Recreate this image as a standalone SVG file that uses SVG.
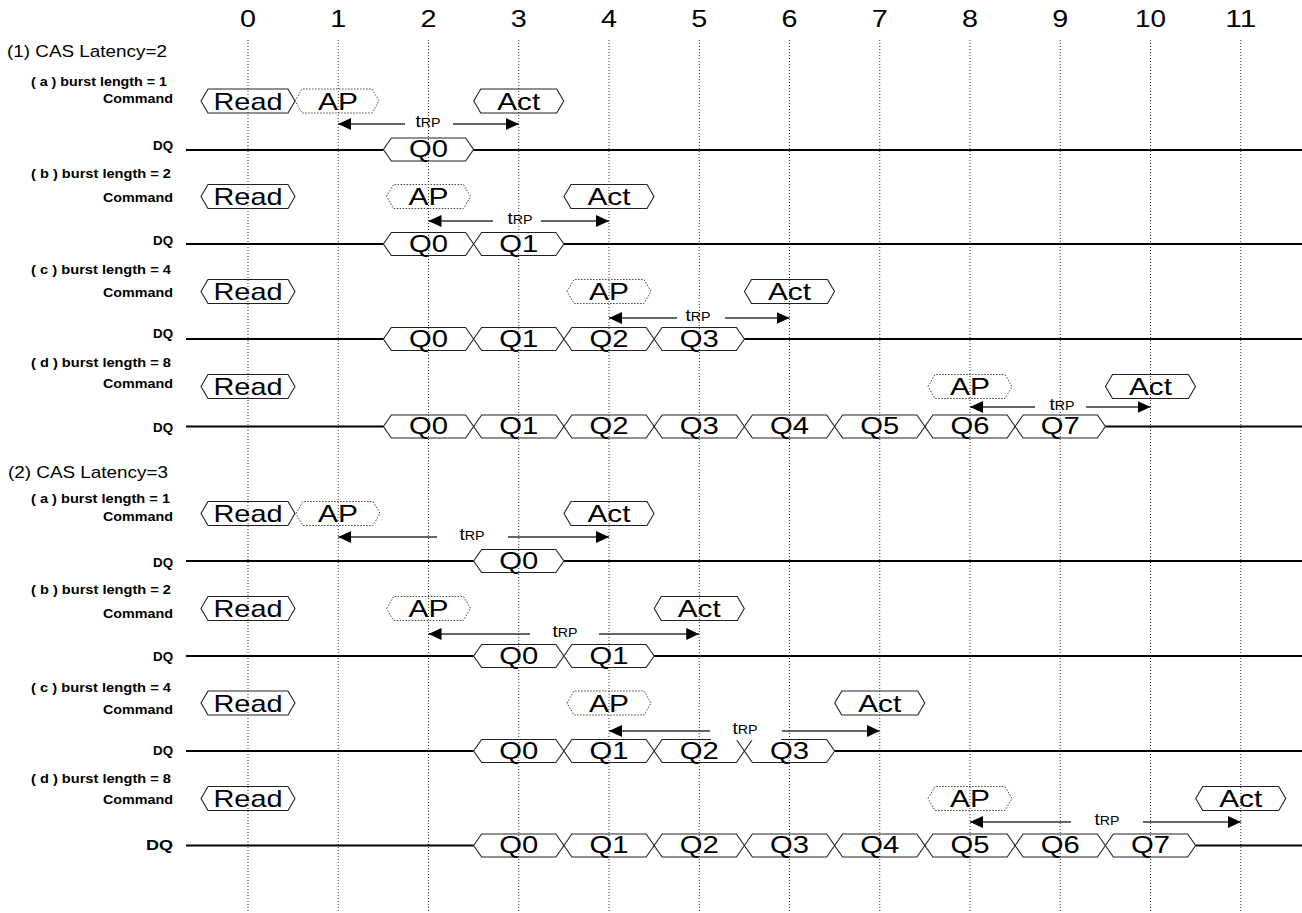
<svg xmlns="http://www.w3.org/2000/svg" width="1302" height="913" viewBox="0 0 1302 913">
<style>
text{font-family:"Liberation Sans",Arial,sans-serif;fill:#000}
.num{font-size:24px;text-anchor:middle}
.head{font-size:17px}
.lbl{font-size:13px;font-weight:bold}
.dql{font-size:15px;font-weight:bold}
.big{font-size:24px;text-anchor:middle}
.trp{font-size:16px;text-anchor:middle}
.trp tspan{font-size:12px}
.clk{stroke:#333;stroke-width:1;stroke-dasharray:1 2;fill:none}
.cmd{fill:none;stroke:#222;stroke-width:1.1}
.ap{fill:none;stroke:#444;stroke-width:1;stroke-dasharray:1.5 1.5}
.q{fill:none;stroke:#222;stroke-width:1.1}
.dq{stroke:#000;stroke-width:2;fill:none}
.arr{stroke:#333;stroke-width:1.3;fill:none;marker-end:url(#ah)}
</style>
<defs>
<marker id="ah" markerUnits="userSpaceOnUse" markerWidth="13" markerHeight="12" refX="13" refY="6" orient="auto"><path d="M0,0 L13,6 L0,12 Z" fill="#000"/></marker>
<path id="hr" d="M-47,0 L-40,-12 L40,-12 L47,0 L40,12 L-40,12 Z"/>
<path id="hp" d="M-42,0 L-35,-12 L35,-12 L42,0 L35,12 L-35,12 Z"/>
<path id="ha" d="M-45,0 L-38,-12 L38,-12 L45,0 L38,12 L-38,12 Z"/>
<path id="hq" d="M-45.125,0 L-37.125,-11.5 L37.125,-11.5 L45.125,0 L37.125,11.5 L-37.125,11.5 Z"/>
</defs>
<rect width="1302" height="913" fill="#fff"/>

<g id="clock">
<g class="clk">
<line x1="248" y1="40" x2="248" y2="913"/>
<line x1="338.25" y1="40" x2="338.25" y2="913"/>
<line x1="428.5" y1="40" x2="428.5" y2="913"/>
<line x1="518.75" y1="40" x2="518.75" y2="913"/>
<line x1="609" y1="40" x2="609" y2="913"/>
<line x1="699.25" y1="40" x2="699.25" y2="913"/>
<line x1="789.5" y1="40" x2="789.5" y2="913"/>
<line x1="879.75" y1="40" x2="879.75" y2="913"/>
<line x1="970" y1="40" x2="970" y2="913"/>
<line x1="1060.25" y1="40" x2="1060.25" y2="913"/>
<line x1="1150.5" y1="40" x2="1150.5" y2="913"/>
<line x1="1240.75" y1="40" x2="1240.75" y2="913"/>
</g>
<text class="num" x="248" y="27" textLength="16" lengthAdjust="spacingAndGlyphs">0</text>
<text class="num" x="338.25" y="27" textLength="16" lengthAdjust="spacingAndGlyphs">1</text>
<text class="num" x="428.5" y="27" textLength="16" lengthAdjust="spacingAndGlyphs">2</text>
<text class="num" x="518.75" y="27" textLength="16" lengthAdjust="spacingAndGlyphs">3</text>
<text class="num" x="609" y="27" textLength="16" lengthAdjust="spacingAndGlyphs">4</text>
<text class="num" x="699.25" y="27" textLength="16" lengthAdjust="spacingAndGlyphs">5</text>
<text class="num" x="789.5" y="27" textLength="16" lengthAdjust="spacingAndGlyphs">6</text>
<text class="num" x="879.75" y="27" textLength="16" lengthAdjust="spacingAndGlyphs">7</text>
<text class="num" x="970" y="27" textLength="16" lengthAdjust="spacingAndGlyphs">8</text>
<text class="num" x="1060.25" y="27" textLength="16" lengthAdjust="spacingAndGlyphs">9</text>
<text class="num" x="1150.5" y="27" textLength="31" lengthAdjust="spacingAndGlyphs">10</text>
<text class="num" x="1240.75" y="27" textLength="31" lengthAdjust="spacingAndGlyphs">11</text>
</g>

<g id="labels">
<text class="head" x="7" y="57" textLength="160" lengthAdjust="spacingAndGlyphs">(1) CAS Latency=2</text>
<text class="lbl" x="31" y="85.5" textLength="136" lengthAdjust="spacingAndGlyphs">( a ) burst length = 1</text>
<text class="lbl" x="103" y="103" textLength="70" lengthAdjust="spacingAndGlyphs">Command</text>
<text class="lbl" x="153" y="150" textLength="20" lengthAdjust="spacingAndGlyphs">DQ</text>
<text class="lbl" x="31" y="177.5" textLength="140" lengthAdjust="spacingAndGlyphs">( b ) burst length = 2</text>
<text class="lbl" x="103" y="201.5" textLength="70" lengthAdjust="spacingAndGlyphs">Command</text>
<text class="lbl" x="153" y="244.5" textLength="20" lengthAdjust="spacingAndGlyphs">DQ</text>
<text class="lbl" x="31" y="273.5" textLength="140" lengthAdjust="spacingAndGlyphs">( c ) burst length = 4</text>
<text class="lbl" x="103" y="296.5" textLength="70" lengthAdjust="spacingAndGlyphs">Command</text>
<text class="lbl" x="153" y="338" textLength="20" lengthAdjust="spacingAndGlyphs">DQ</text>
<text class="lbl" x="31" y="366.5" textLength="140" lengthAdjust="spacingAndGlyphs">( d ) burst length = 8</text>
<text class="lbl" x="103" y="388" textLength="70" lengthAdjust="spacingAndGlyphs">Command</text>
<text class="lbl" x="153" y="431.5" textLength="20" lengthAdjust="spacingAndGlyphs">DQ</text>
<text class="head" x="8" y="478" textLength="160" lengthAdjust="spacingAndGlyphs">(2) CAS Latency=3</text>
<text class="lbl" x="31" y="502.5" textLength="139" lengthAdjust="spacingAndGlyphs">( a ) burst length = 1</text>
<text class="lbl" x="103" y="521" textLength="70" lengthAdjust="spacingAndGlyphs">Command</text>
<text class="lbl" x="153" y="566.5" textLength="20" lengthAdjust="spacingAndGlyphs">DQ</text>
<text class="lbl" x="31" y="594" textLength="140" lengthAdjust="spacingAndGlyphs">( b ) burst length = 2</text>
<text class="lbl" x="103" y="618" textLength="70" lengthAdjust="spacingAndGlyphs">Command</text>
<text class="lbl" x="153" y="661" textLength="20" lengthAdjust="spacingAndGlyphs">DQ</text>
<text class="lbl" x="31" y="692" textLength="140" lengthAdjust="spacingAndGlyphs">( c ) burst length = 4</text>
<text class="lbl" x="103" y="714" textLength="70" lengthAdjust="spacingAndGlyphs">Command</text>
<text class="lbl" x="153" y="755" textLength="20" lengthAdjust="spacingAndGlyphs">DQ</text>
<text class="lbl" x="31" y="783" textLength="140" lengthAdjust="spacingAndGlyphs">( d ) burst length = 8</text>
<text class="lbl" x="103" y="804" textLength="70" lengthAdjust="spacingAndGlyphs">Command</text>
<text class="dql" x="146" y="850" textLength="27" lengthAdjust="spacingAndGlyphs">DQ</text>
</g>

<g id="connectors">
<g class="dq">
<line x1="186" y1="150" x2="383.375" y2="150"/><line x1="473.625" y1="150" x2="1302" y2="150"/>
<line x1="186" y1="244" x2="383.375" y2="244"/><line x1="563.875" y1="244" x2="1302" y2="244"/>
<line x1="186" y1="339" x2="383.375" y2="339"/><line x1="744.375" y1="339" x2="1302" y2="339"/>
<line x1="186" y1="426.5" x2="383.375" y2="426.5"/><line x1="1105.375" y1="426.5" x2="1302" y2="426.5"/>
<line x1="186" y1="561" x2="473.625" y2="561"/><line x1="563.875" y1="561" x2="1302" y2="561"/>
<line x1="186" y1="656" x2="473.625" y2="656"/><line x1="654.125" y1="656" x2="1302" y2="656"/>
<line x1="186" y1="751" x2="473.625" y2="751"/><line x1="834.625" y1="751" x2="1302" y2="751"/>
<line x1="186" y1="845.5" x2="473.625" y2="845.5"/><line x1="1195.625" y1="845.5" x2="1302" y2="845.5"/>
</g>
<g id="trp-1a"><line class="arr" x1="405" y1="124" x2="338.25" y2="124"/><line class="arr" x1="453" y1="124" x2="518.75" y2="124"/><text class="trp" x="428" y="127" textLength="25" lengthAdjust="spacingAndGlyphs">t<tspan>RP</tspan></text></g>
<g id="trp-1b"><line class="arr" x1="493" y1="221" x2="428.5" y2="221"/><line class="arr" x1="541" y1="221" x2="609" y2="221"/><text class="trp" x="520" y="224" textLength="25" lengthAdjust="spacingAndGlyphs">t<tspan>RP</tspan></text></g>
<g id="trp-1c"><line class="arr" x1="677" y1="318" x2="609" y2="318"/><line class="arr" x1="725" y1="318" x2="789.5" y2="318"/><text class="trp" x="698" y="321" textLength="25" lengthAdjust="spacingAndGlyphs">t<tspan>RP</tspan></text></g>
<g id="trp-1d"><line class="arr" x1="1035" y1="407" x2="970" y2="407"/><line class="arr" x1="1086" y1="407" x2="1150.5" y2="407"/><text class="trp" x="1062" y="410" textLength="25" lengthAdjust="spacingAndGlyphs">t<tspan>RP</tspan></text></g>
<g id="trp-2a"><line class="arr" x1="437" y1="537" x2="338.25" y2="537"/><line class="arr" x1="508" y1="537" x2="609" y2="537"/><text class="trp" x="472" y="540" textLength="25" lengthAdjust="spacingAndGlyphs">t<tspan>RP</tspan></text></g>
<g id="trp-2b"><line class="arr" x1="530" y1="634" x2="428.5" y2="634"/><line class="arr" x1="599" y1="634" x2="699.25" y2="634"/><text class="trp" x="565" y="637" textLength="25" lengthAdjust="spacingAndGlyphs">t<tspan>RP</tspan></text></g>
<g id="trp-2d"><line class="arr" x1="1071" y1="822" x2="970" y2="822"/><line class="arr" x1="1143" y1="822" x2="1240.75" y2="822"/><text class="trp" x="1107" y="825" textLength="25" lengthAdjust="spacingAndGlyphs">t<tspan>RP</tspan></text></g>
</g>

<g id="row-1a">
<g id="r1a-read"><use href="#hr" x="248" y="101" class="cmd"/><text class="big" x="248" y="109.5" textLength="69" lengthAdjust="spacingAndGlyphs">Read</text></g>
<g id="r1a-ap"><use href="#hp" x="337" y="101" class="ap"/><text class="big" x="338" y="109.5" textLength="40" lengthAdjust="spacingAndGlyphs">AP</text></g>
<g id="r1a-act"><use href="#ha" x="518.75" y="101" class="cmd"/><text class="big" x="518.75" y="109.5" textLength="43" lengthAdjust="spacingAndGlyphs">Act</text></g>
<g id="r1a-q0"><use href="#hq" x="428.5" y="149.5" class="q"/><text class="big" x="428.5" y="157" textLength="39" lengthAdjust="spacingAndGlyphs">Q0</text></g>
</g>

<g id="row-1b">
<g id="r1b-read"><use href="#hr" x="248" y="196.5" class="cmd"/><text class="big" x="248" y="205" textLength="69" lengthAdjust="spacingAndGlyphs">Read</text></g>
<g id="r1b-ap"><use href="#hp" x="428.5" y="196.5" class="ap"/><text class="big" x="428.5" y="205" textLength="40" lengthAdjust="spacingAndGlyphs">AP</text></g>
<g id="r1b-act"><use href="#ha" x="609" y="196.5" class="cmd"/><text class="big" x="609" y="205" textLength="43" lengthAdjust="spacingAndGlyphs">Act</text></g>
<g id="r1b-q0"><use href="#hq" x="428.5" y="244" class="q"/><text class="big" x="428.5" y="251.5" textLength="39" lengthAdjust="spacingAndGlyphs">Q0</text></g>
<g id="r1b-q1"><use href="#hq" x="518.75" y="244" class="q"/><text class="big" x="518.75" y="251.5" textLength="39" lengthAdjust="spacingAndGlyphs">Q1</text></g>
</g>

<g id="row-1c">
<g id="r1c-read"><use href="#hr" x="248" y="291.5" class="cmd"/><text class="big" x="248" y="300" textLength="69" lengthAdjust="spacingAndGlyphs">Read</text></g>
<g id="r1c-ap"><use href="#hp" x="609" y="291.5" class="ap"/><text class="big" x="609" y="300" textLength="40" lengthAdjust="spacingAndGlyphs">AP</text></g>
<g id="r1c-act"><use href="#ha" x="789.5" y="291.5" class="cmd"/><text class="big" x="789.5" y="300" textLength="43" lengthAdjust="spacingAndGlyphs">Act</text></g>
<g id="r1c-q0"><use href="#hq" x="428.5" y="339" class="q"/><text class="big" x="428.5" y="346.5" textLength="39" lengthAdjust="spacingAndGlyphs">Q0</text></g>
<g id="r1c-q1"><use href="#hq" x="518.75" y="339" class="q"/><text class="big" x="518.75" y="346.5" textLength="39" lengthAdjust="spacingAndGlyphs">Q1</text></g>
<g id="r1c-q2"><use href="#hq" x="609" y="339" class="q"/><text class="big" x="609" y="346.5" textLength="39" lengthAdjust="spacingAndGlyphs">Q2</text></g>
<g id="r1c-q3"><use href="#hq" x="699.25" y="339" class="q"/><text class="big" x="699.25" y="346.5" textLength="39" lengthAdjust="spacingAndGlyphs">Q3</text></g>
</g>

<g id="row-1d">
<g id="r1d-read"><use href="#hr" x="248" y="386.5" class="cmd"/><text class="big" x="248" y="395" textLength="69" lengthAdjust="spacingAndGlyphs">Read</text></g>
<g id="r1d-ap"><use href="#hp" x="970" y="386.5" class="ap"/><text class="big" x="970" y="395" textLength="40" lengthAdjust="spacingAndGlyphs">AP</text></g>
<g id="r1d-act"><use href="#ha" x="1150.5" y="386.5" class="cmd"/><text class="big" x="1150.5" y="395" textLength="43" lengthAdjust="spacingAndGlyphs">Act</text></g>
<g id="r1d-q0"><use href="#hq" x="428.5" y="426.5" class="q"/><text class="big" x="428.5" y="434" textLength="39" lengthAdjust="spacingAndGlyphs">Q0</text></g>
<g id="r1d-q1"><use href="#hq" x="518.75" y="426.5" class="q"/><text class="big" x="518.75" y="434" textLength="39" lengthAdjust="spacingAndGlyphs">Q1</text></g>
<g id="r1d-q2"><use href="#hq" x="609" y="426.5" class="q"/><text class="big" x="609" y="434" textLength="39" lengthAdjust="spacingAndGlyphs">Q2</text></g>
<g id="r1d-q3"><use href="#hq" x="699.25" y="426.5" class="q"/><text class="big" x="699.25" y="434" textLength="39" lengthAdjust="spacingAndGlyphs">Q3</text></g>
<g id="r1d-q4"><use href="#hq" x="789.5" y="426.5" class="q"/><text class="big" x="789.5" y="434" textLength="39" lengthAdjust="spacingAndGlyphs">Q4</text></g>
<g id="r1d-q5"><use href="#hq" x="879.75" y="426.5" class="q"/><text class="big" x="879.75" y="434" textLength="39" lengthAdjust="spacingAndGlyphs">Q5</text></g>
<g id="r1d-q6"><use href="#hq" x="970" y="426.5" class="q"/><text class="big" x="970" y="434" textLength="39" lengthAdjust="spacingAndGlyphs">Q6</text></g>
<g id="r1d-q7"><use href="#hq" x="1060.25" y="426.5" class="q"/><text class="big" x="1060.25" y="434" textLength="39" lengthAdjust="spacingAndGlyphs">Q7</text></g>
</g>

<g id="row-2a">
<g id="r2a-read"><use href="#hr" x="248" y="513.5" class="cmd"/><text class="big" x="248" y="522" textLength="69" lengthAdjust="spacingAndGlyphs">Read</text></g>
<g id="r2a-ap"><use href="#hp" x="338" y="513.5" class="ap"/><text class="big" x="338" y="522" textLength="40" lengthAdjust="spacingAndGlyphs">AP</text></g>
<g id="r2a-act"><use href="#ha" x="609" y="513.5" class="cmd"/><text class="big" x="609" y="522" textLength="43" lengthAdjust="spacingAndGlyphs">Act</text></g>
<g id="r2a-q0"><use href="#hq" x="518.75" y="561" class="q"/><text class="big" x="518.75" y="568.5" textLength="39" lengthAdjust="spacingAndGlyphs">Q0</text></g>
</g>

<g id="row-2b">
<g id="r2b-read"><use href="#hr" x="248" y="608.5" class="cmd"/><text class="big" x="248" y="617" textLength="69" lengthAdjust="spacingAndGlyphs">Read</text></g>
<g id="r2b-ap"><use href="#hp" x="428.5" y="608.5" class="ap"/><text class="big" x="428.5" y="617" textLength="40" lengthAdjust="spacingAndGlyphs">AP</text></g>
<g id="r2b-act"><use href="#ha" x="699.25" y="608.5" class="cmd"/><text class="big" x="699.25" y="617" textLength="43" lengthAdjust="spacingAndGlyphs">Act</text></g>
<g id="r2b-q0"><use href="#hq" x="518.75" y="656" class="q"/><text class="big" x="518.75" y="663.5" textLength="39" lengthAdjust="spacingAndGlyphs">Q0</text></g>
<g id="r2b-q1"><use href="#hq" x="609" y="656" class="q"/><text class="big" x="609" y="663.5" textLength="39" lengthAdjust="spacingAndGlyphs">Q1</text></g>
</g>

<g id="row-2c">
<g id="r2c-read"><use href="#hr" x="248" y="703" class="cmd"/><text class="big" x="248" y="711.5" textLength="69" lengthAdjust="spacingAndGlyphs">Read</text></g>
<g id="r2c-ap"><use href="#hp" x="609" y="703" class="ap"/><text class="big" x="609" y="711.5" textLength="40" lengthAdjust="spacingAndGlyphs">AP</text></g>
<g id="r2c-act"><use href="#ha" x="879.75" y="703" class="cmd"/><text class="big" x="879.75" y="711.5" textLength="43" lengthAdjust="spacingAndGlyphs">Act</text></g>
<g id="r2c-q0"><use href="#hq" x="518.75" y="751" class="q"/><text class="big" x="518.75" y="758.5" textLength="39" lengthAdjust="spacingAndGlyphs">Q0</text></g>
<g id="r2c-q1"><use href="#hq" x="609" y="751" class="q"/><text class="big" x="609" y="758.5" textLength="39" lengthAdjust="spacingAndGlyphs">Q1</text></g>
<g id="r2c-q2"><use href="#hq" x="699.25" y="751" class="q"/><text class="big" x="699.25" y="758.5" textLength="39" lengthAdjust="spacingAndGlyphs">Q2</text></g>
<g id="r2c-q3"><use href="#hq" x="789.5" y="751" class="q"/><text class="big" x="789.5" y="758.5" textLength="39" lengthAdjust="spacingAndGlyphs">Q3</text></g>
</g>
<g id="trp-2c"><rect x="711" y="724" width="70" height="16.2" fill="#fff"/><line class="arr" x1="710" y1="731" x2="609" y2="731"/><line class="arr" x1="782" y1="731" x2="879.75" y2="731"/><text class="trp" x="745" y="734" textLength="25" lengthAdjust="spacingAndGlyphs">t<tspan>RP</tspan></text></g>

<g id="row-2d">
<g id="r2d-read"><use href="#hr" x="248" y="798.5" class="cmd"/><text class="big" x="248" y="807" textLength="69" lengthAdjust="spacingAndGlyphs">Read</text></g>
<g id="r2d-ap"><use href="#hp" x="970" y="798.5" class="ap"/><text class="big" x="970" y="807" textLength="40" lengthAdjust="spacingAndGlyphs">AP</text></g>
<g id="r2d-act"><use href="#ha" x="1240.75" y="798.5" class="cmd"/><text class="big" x="1240.75" y="807" textLength="43" lengthAdjust="spacingAndGlyphs">Act</text></g>
<g id="r2d-q0"><use href="#hq" x="518.75" y="845.5" class="q"/><text class="big" x="518.75" y="853" textLength="39" lengthAdjust="spacingAndGlyphs">Q0</text></g>
<g id="r2d-q1"><use href="#hq" x="609" y="845.5" class="q"/><text class="big" x="609" y="853" textLength="39" lengthAdjust="spacingAndGlyphs">Q1</text></g>
<g id="r2d-q2"><use href="#hq" x="699.25" y="845.5" class="q"/><text class="big" x="699.25" y="853" textLength="39" lengthAdjust="spacingAndGlyphs">Q2</text></g>
<g id="r2d-q3"><use href="#hq" x="789.5" y="845.5" class="q"/><text class="big" x="789.5" y="853" textLength="39" lengthAdjust="spacingAndGlyphs">Q3</text></g>
<g id="r2d-q4"><use href="#hq" x="879.75" y="845.5" class="q"/><text class="big" x="879.75" y="853" textLength="39" lengthAdjust="spacingAndGlyphs">Q4</text></g>
<g id="r2d-q5"><use href="#hq" x="970" y="845.5" class="q"/><text class="big" x="970" y="853" textLength="39" lengthAdjust="spacingAndGlyphs">Q5</text></g>
<g id="r2d-q6"><use href="#hq" x="1060.25" y="845.5" class="q"/><text class="big" x="1060.25" y="853" textLength="39" lengthAdjust="spacingAndGlyphs">Q6</text></g>
<g id="r2d-q7"><use href="#hq" x="1150.5" y="845.5" class="q"/><text class="big" x="1150.5" y="853" textLength="39" lengthAdjust="spacingAndGlyphs">Q7</text></g>
</g>
</svg>
